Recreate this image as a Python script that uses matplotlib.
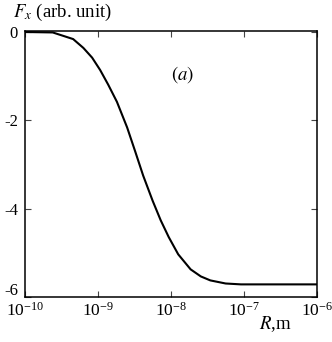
import matplotlib
matplotlib.use("Agg")
import matplotlib.pyplot as plt
import matplotlib.transforms as mtrans
import numpy as np

# curve: log10(R / m) and F_x (arb. unit)
log_r = [-10.0, -9.62, -9.34, -9.20, -9.08, -8.97, -8.86, -8.74, -8.60, -8.49,
         -8.38, -8.25, -8.14, -8.03, -7.90, -7.73, -7.59, -7.46, -7.25, -7.04, -6.0]
fx = [0.0, -0.01, -0.16, -0.36, -0.58, -0.86, -1.19, -1.58, -2.16, -2.70,
      -3.25, -3.82, -4.26, -4.64, -5.03, -5.37, -5.53, -5.62, -5.69, -5.71, -5.71]

y_ticks = [0, -2, -4, -6]
y_labels = ["0", "-2", "-4", "-6"]
x_ticks = [1e-10, 1e-9, 1e-8, 1e-7, 1e-6]

plt.rcParams["font.family"] = ["Liberation Serif", "DejaVu Serif"]
plt.rcParams["mathtext.fontset"] = "stix"

fig = plt.figure(figsize=(3.32, 3.42), dpi=100)
ax = fig.add_axes([0.0753, 0.131, 0.879, 0.778])

r = 10.0 ** np.array(log_r)
ax.plot(r, fx, color="black", lw=1.5)

ax.set_xscale("log")
ax.set_xlim(1e-10, 1e-6)
ax.set_ylim(-6.0, 0.02)
ax.set_xticks(x_ticks)
ax.set_yticks(y_ticks)
ax.set_yticklabels(y_labels)
ax.minorticks_off()
ax.tick_params(direction="in", top=True, right=True, length=4.5, width=0.8,
               color="#444444", labelsize=12, pad=5)
ax.tick_params(axis="x", pad=3, labelsize=12.5)
for sp in ax.spines.values():
    sp.set_linewidth(1.1)

# lift the bottom y label a little so it clears the x labels
lab = ax.get_yticklabels()[-1]
lab.set_transform(lab.get_transform() + mtrans.ScaledTranslation(0, 6 / 72, fig.dpi_scale_trans))

fig.text(13 / 332, 1 - 12 / 342, r"$F_x$ (arb. unit)", fontsize=13.5, va="center", ha="left")
fig.text(183 / 332, 1 - 75 / 342, r"$(a)$", fontsize=13.5, va="center", ha="center")
fig.text(275 / 332, 1 - 324 / 342, r"$R$,m", fontsize=13.5, va="center", ha="center")

fig.savefig("out.png", dpi=100)
